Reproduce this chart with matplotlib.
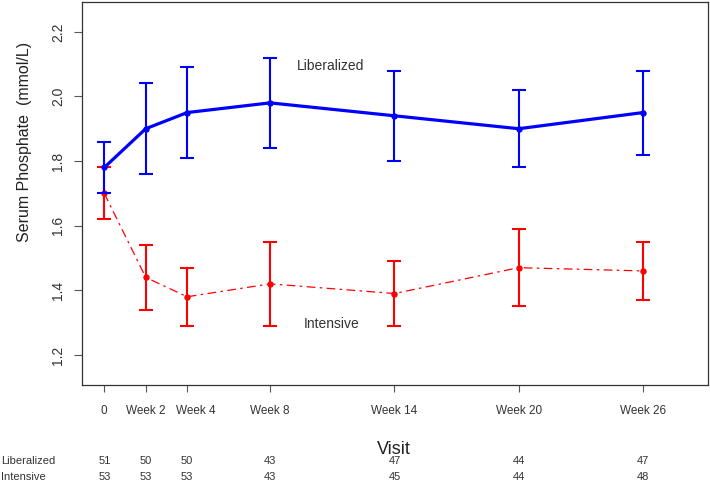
"""
Serum phosphate by visit, liberalized vs intensive arm
"""

import matplotlib

matplotlib.use("Agg")
import matplotlib.pyplot as plt
import matplotlib.transforms as mtransforms
import numpy as np

plt.rcParams["font.family"] = ["Liberation Sans", "DejaVu Sans"]

# Data
weeks = [0, 2, 4, 8, 14, 20, 26]
tick_labels = ["0", "Week 2", "Week 4", "Week 8", "Week 14", "Week 20", "Week 26"]

lib_mean = [1.78, 1.90, 1.95, 1.98, 1.94, 1.90, 1.95]
lib_lo = [1.70, 1.76, 1.81, 1.84, 1.80, 1.78, 1.82]
lib_hi = [1.86, 2.04, 2.09, 2.12, 2.08, 2.02, 2.08]

int_mean = [1.70, 1.44, 1.38, 1.42, 1.39, 1.47, 1.46]
int_lo = [1.62, 1.34, 1.29, 1.29, 1.29, 1.35, 1.37]
int_hi = [1.78, 1.54, 1.47, 1.55, 1.49, 1.59, 1.55]

n_lib = [51, 50, 50, 43, 47, 44, 47]
n_int = [53, 53, 53, 43, 45, 44, 48]

W, H = 710, 483
fig = plt.figure(figsize=(W / 100, H / 100), dpi=100)
ax = fig.add_axes([81.7 / W, 1 - 385 / H, (708.3 - 81.7) / W, (385 - 1.7) / H])

text_col = "#333333"
blue = "#0000FF"
red = "#FF0000"

# Liberalized arm
lm = np.array(lib_mean)
ax.errorbar(weeks, lm, yerr=[lm - np.array(lib_lo), np.array(lib_hi) - lm],
            color=blue, lw=2.3, marker="o", ms=3.6, elinewidth=1.5,
            capsize=5, capthick=1.5, zorder=3)

# Intensive arm
im = np.array(int_mean)
ax.errorbar(weeks, im, yerr=[im - np.array(int_lo), np.array(int_hi) - im],
            color=red, lw=0.9, marker="o", ms=3.6, elinewidth=1.5,
            capsize=5, capthick=1.5, dashes=(7, 3.5, 2, 3.5), zorder=2)

ax.text(10.9, 2.093, "Liberalized", fontsize=10, color=text_col, ha="center", va="center")
ax.text(10.95, 1.295, "Intensive", fontsize=10, color=text_col, ha="center", va="center")

ax.set_xlim(-1.09, 29.15)
ax.set_ylim(1.107, 2.293)
ax.set_xticks(weeks)
ax.set_xticklabels(tick_labels)
ax.set_yticks([1.2, 1.4, 1.6, 1.8, 2.0, 2.2])
ax.set_yticklabels(["1.2", "1.4", "1.6", "1.8", "2.0", "2.2"], rotation=90, va="center")

ax.tick_params(axis="x", direction="out", length=5, width=0.8, color="#555555",
               labelsize=8.5, labelcolor=text_col, pad=9.5)
ax.tick_params(axis="y", direction="out", length=6, width=0.8, color="#555555",
               labelsize=10, labelcolor=text_col, pad=6)
for sp in ax.spines.values():
    sp.set_color("#333333")
    sp.set_linewidth(0.9)

# the "Week 4" label sits a little right of its tick in the original
wk4 = ax.xaxis.get_major_ticks()[2].label1
wk4.set_transform(wk4.get_transform() + mtransforms.ScaledTranslation(0.09, 0, fig.dpi_scale_trans))

fig.text(25 / W, 1 - 142 / H, "Serum Phosphate  (mmol/L)", rotation=90,
         fontsize=11.5, color="#222222", ha="center", va="center")
fig.text(394 / W, 1 - 453.5 / H, "Visit", fontsize=13, color="#222222",
         ha="center", va="baseline")

# Numbers-at-risk table
trans = mtransforms.blended_transform_factory(ax.transData, fig.transFigure)
rows = [("Liberalized", n_lib, 461), ("Intensive", n_int, 477)]
for name, counts, ypx in rows:
    fig.text(1 / W, 1 - ypx / H, name, fontsize=8, color=text_col, ha="left", va="center")
    for wk, n in zip(weeks, counts):
        ax.text(wk, 1 - ypx / H, str(n), transform=trans, fontsize=8,
                color=text_col, ha="center", va="center", clip_on=False)

fig.savefig("out.png", dpi=100)
